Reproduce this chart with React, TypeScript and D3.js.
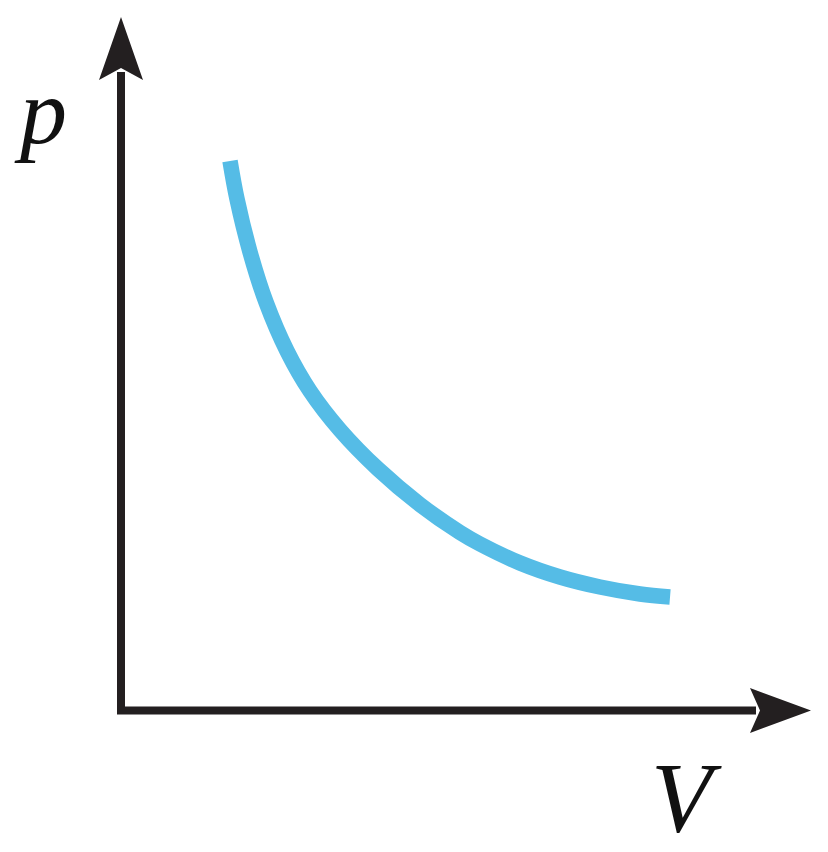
import React from "react";
import * as d3 from "d3";

// Isotherm points (V, p in arbitrary units 0..10)
const volumes = [1.58, 1.681, 1.87, 2.101, 2.406, 2.739, 3.174, 3.725, 4.333, 4.913, 5.203, 5.783, 6.362, 6.942, 7.522, 7.957];
const pressures = [7.924, 7.376, 6.611, 5.89, 5.184, 4.607, 4.045, 3.482, 2.97, 2.567, 2.401, 2.127, 1.925, 1.781, 1.68, 1.637];
const axisLabels = { x: "V", y: "p" };
const domainMax = 10;

const W = 828;
const H = 852;

export default function App() {
  const x = d3.scaleLinear().domain([0, domainMax]).range([121, 811]);
  const y = d3.scaleLinear().domain([0, domainMax]).range([710.5, 17]);

  const pts: [number, number][] = volumes.map((v, i) => [v, pressures[i]]);
  const line = d3
    .line<[number, number]>()
    .x((d) => x(d[0]))
    .y((d) => y(d[1]))
    .curve(d3.curveCatmullRom.alpha(0.5));

  const x0 = x(0);
  const y0 = y(0);
  const xTip = x(domainMax);
  const yTip = y(domainMax);
  const axisColor = "#231f20";

  const upArrow = `M${x0},${yTip} L${x0 + 22},${yTip + 63} L${x0},${yTip + 51} L${x0 - 22},${yTip + 63} Z`;
  const rightArrow = `M${xTip},${y0} L${xTip - 61},${y0 + 22.5} L${xTip - 51},${y0} L${xTip - 61},${y0 - 22.5} Z`;

  return (
    <svg
      width={W}
      height={H}
      viewBox={`0 0 ${W} ${H}`}
      style={{ position: "absolute", left: 0, top: 0, background: "#fff" }}
    >
      <rect x={0} y={0} width={W} height={H} fill="#fff" />
      <path
        d={`M${x0},${yTip + 55} L${x0},${y0} L${xTip - 55},${y0}`}
        fill="none"
        stroke={axisColor}
        strokeWidth={8}
        strokeLinejoin="miter"
      />
      <path d={upArrow} fill={axisColor} />
      <path d={rightArrow} fill={axisColor} />
      <path
        d={line(pts) || ""}
        fill="none"
        stroke="#55bce6"
        strokeWidth={15.5}
        strokeLinecap="butt"
        strokeLinejoin="round"
      />
      <text
        x={20}
        y={143}
        fontFamily="'Liberation Serif', 'DejaVu Serif', serif"
        fontStyle="italic"
        fontSize={94}
        fill="#111"
      >
        {axisLabels.y}
      </text>
      <text
        x={651}
        y={831}
        fontFamily="'Liberation Serif', 'DejaVu Serif', serif"
        fontStyle="italic"
        fontSize={100}
        fill="#111"
      >
        {axisLabels.x}
      </text>
    </svg>
  );
}
